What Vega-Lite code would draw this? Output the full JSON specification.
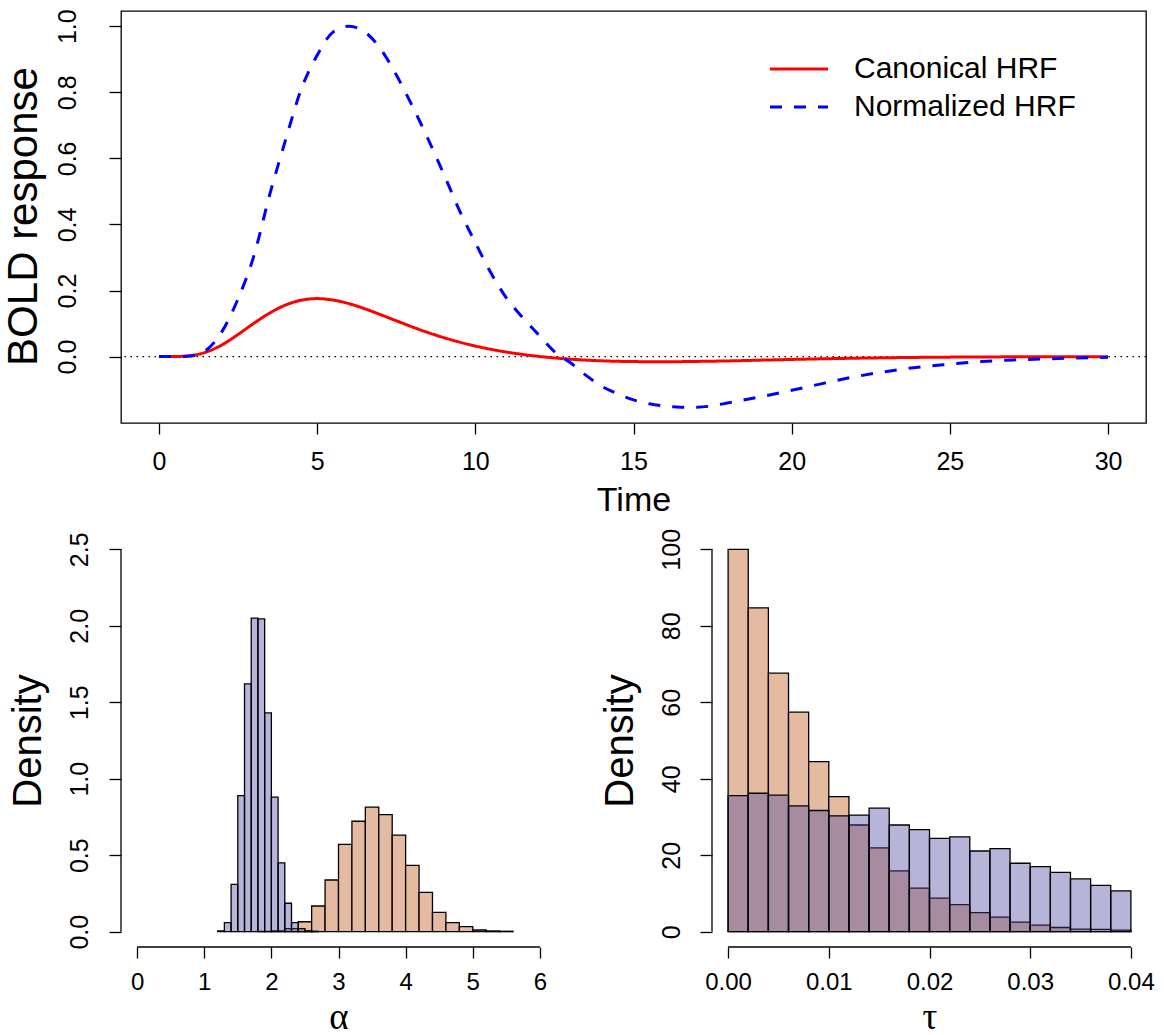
{
  "$schema": "https://vega.github.io/schema/vega-lite/v6.json",
  "autosize": "none",
  "padding": {"left": 121, "top": 11, "right": 1043, "bottom": 1024},
  "background": "white",
  "config": {
    "view": {"stroke": null},
    "axis": {
      "labelFont": "Liberation Sans", "titleFont": "Liberation Sans",
      "labelColor": "black", "titleColor": "black", "tickColor": "black", "domainColor": "black",
      "tickWidth": 1.3, "domainWidth": 1.3, "grid": false, "labelOverlap": false, "labelFlush": false,
      "titleFontWeight": "normal"
    },
    "legend": {"labelFont": "Liberation Sans", "labelColor": "black"}
  },
  "datasets": {
    "hrf": [
      {"time": 0, "response": 0, "series": "Canonical HRF"},
      {"time": 0.5, "response": 0.0002, "series": "Canonical HRF"},
      {"time": 1, "response": 0.003, "series": "Canonical HRF"},
      {"time": 1.5, "response": 0.014, "series": "Canonical HRF"},
      {"time": 2, "response": 0.036, "series": "Canonical HRF"},
      {"time": 2.5, "response": 0.067, "series": "Canonical HRF"},
      {"time": 3, "response": 0.1007, "series": "Canonical HRF"},
      {"time": 3.5, "response": 0.132, "series": "Canonical HRF"},
      {"time": 4, "response": 0.156, "series": "Canonical HRF"},
      {"time": 4.5, "response": 0.1707, "series": "Canonical HRF"},
      {"time": 5, "response": 0.1755, "series": "Canonical HRF"},
      {"time": 5.5, "response": 0.1712, "series": "Canonical HRF"},
      {"time": 6, "response": 0.1604, "series": "Canonical HRF"},
      {"time": 6.5, "response": 0.1451, "series": "Canonical HRF"},
      {"time": 7, "response": 0.1271, "series": "Canonical HRF"},
      {"time": 7.5, "response": 0.1085, "series": "Canonical HRF"},
      {"time": 8, "response": 0.0901, "series": "Canonical HRF"},
      {"time": 8.5, "response": 0.0729, "series": "Canonical HRF"},
      {"time": 9, "response": 0.0575, "series": "Canonical HRF"},
      {"time": 9.5, "response": 0.0439, "series": "Canonical HRF"},
      {"time": 10, "response": 0.032, "series": "Canonical HRF"},
      {"time": 10.5, "response": 0.022, "series": "Canonical HRF"},
      {"time": 11, "response": 0.0135, "series": "Canonical HRF"},
      {"time": 11.5, "response": 0.0065, "series": "Canonical HRF"},
      {"time": 12, "response": 0.0007, "series": "Canonical HRF"},
      {"time": 13, "response": -0.0078, "series": "Canonical HRF"},
      {"time": 14, "response": -0.0128, "series": "Canonical HRF"},
      {"time": 15, "response": -0.0151, "series": "Canonical HRF"},
      {"time": 16, "response": -0.0156, "series": "Canonical HRF"},
      {"time": 17, "response": -0.0146, "series": "Canonical HRF"},
      {"time": 18, "response": -0.0131, "series": "Canonical HRF"},
      {"time": 19, "response": -0.0108, "series": "Canonical HRF"},
      {"time": 20, "response": -0.0086, "series": "Canonical HRF"},
      {"time": 22, "response": -0.0049, "series": "Canonical HRF"},
      {"time": 24, "response": -0.0024, "series": "Canonical HRF"},
      {"time": 26, "response": -0.0011, "series": "Canonical HRF"},
      {"time": 28, "response": -0.0005, "series": "Canonical HRF"},
      {"time": 30, "response": -0.0002, "series": "Canonical HRF"},
      {"time": 0, "response": 0, "series": "Normalized HRF"},
      {"time": 0.5, "response": 0, "series": "Normalized HRF"},
      {"time": 1, "response": 0.002, "series": "Normalized HRF"},
      {"time": 1.5, "response": 0.02, "series": "Normalized HRF"},
      {"time": 2, "response": 0.077, "series": "Normalized HRF"},
      {"time": 2.5, "response": 0.175, "series": "Normalized HRF"},
      {"time": 3, "response": 0.305, "series": "Normalized HRF"},
      {"time": 3.5, "response": 0.49, "series": "Normalized HRF"},
      {"time": 4, "response": 0.655, "series": "Normalized HRF"},
      {"time": 4.5, "response": 0.81, "series": "Normalized HRF"},
      {"time": 5, "response": 0.912, "series": "Normalized HRF"},
      {"time": 5.5, "response": 0.982, "series": "Normalized HRF"},
      {"time": 6, "response": 1.0, "series": "Normalized HRF"},
      {"time": 6.5, "response": 0.983, "series": "Normalized HRF"},
      {"time": 7, "response": 0.932, "series": "Normalized HRF"},
      {"time": 7.5, "response": 0.853, "series": "Normalized HRF"},
      {"time": 8, "response": 0.76, "series": "Normalized HRF"},
      {"time": 8.5, "response": 0.66, "series": "Normalized HRF"},
      {"time": 9, "response": 0.553, "series": "Normalized HRF"},
      {"time": 9.5, "response": 0.442, "series": "Normalized HRF"},
      {"time": 10, "response": 0.345, "series": "Normalized HRF"},
      {"time": 10.5, "response": 0.252, "series": "Normalized HRF"},
      {"time": 11, "response": 0.175, "series": "Normalized HRF"},
      {"time": 11.5, "response": 0.118, "series": "Normalized HRF"},
      {"time": 12, "response": 0.066, "series": "Normalized HRF"},
      {"time": 12.5, "response": 0.015, "series": "Normalized HRF"},
      {"time": 13, "response": -0.018, "series": "Normalized HRF"},
      {"time": 13.5, "response": -0.057, "series": "Normalized HRF"},
      {"time": 14, "response": -0.09, "series": "Normalized HRF"},
      {"time": 14.5, "response": -0.113, "series": "Normalized HRF"},
      {"time": 15, "response": -0.131, "series": "Normalized HRF"},
      {"time": 15.5, "response": -0.143, "series": "Normalized HRF"},
      {"time": 16, "response": -0.15, "series": "Normalized HRF"},
      {"time": 16.5, "response": -0.153, "series": "Normalized HRF"},
      {"time": 17, "response": -0.153, "series": "Normalized HRF"},
      {"time": 17.5, "response": -0.149, "series": "Normalized HRF"},
      {"time": 18, "response": -0.14, "series": "Normalized HRF"},
      {"time": 19, "response": -0.122, "series": "Normalized HRF"},
      {"time": 20, "response": -0.102, "series": "Normalized HRF"},
      {"time": 21, "response": -0.081, "series": "Normalized HRF"},
      {"time": 22, "response": -0.061, "series": "Normalized HRF"},
      {"time": 23, "response": -0.045, "series": "Normalized HRF"},
      {"time": 24, "response": -0.032, "series": "Normalized HRF"},
      {"time": 25, "response": -0.023, "series": "Normalized HRF"},
      {"time": 26, "response": -0.015, "series": "Normalized HRF"},
      {"time": 27, "response": -0.01, "series": "Normalized HRF"},
      {"time": 28, "response": -0.007, "series": "Normalized HRF"},
      {"time": 29, "response": -0.004, "series": "Normalized HRF"},
      {"time": 30, "response": -0.002, "series": "Normalized HRF"}
    ],
    "alpha": [
      {"bin_start": 1.8, "bin_end": 2.0, "density": 0.002, "group": "peach"},
      {"bin_start": 2.0, "bin_end": 2.2, "density": 0.005, "group": "peach"},
      {"bin_start": 2.2, "bin_end": 2.4, "density": 0.02, "group": "peach"},
      {"bin_start": 2.4, "bin_end": 2.6, "density": 0.065, "group": "peach"},
      {"bin_start": 2.6, "bin_end": 2.8, "density": 0.168, "group": "peach"},
      {"bin_start": 2.8, "bin_end": 3.0, "density": 0.338, "group": "peach"},
      {"bin_start": 3.0, "bin_end": 3.2, "density": 0.571, "group": "peach"},
      {"bin_start": 3.2, "bin_end": 3.4, "density": 0.722, "group": "peach"},
      {"bin_start": 3.4, "bin_end": 3.6, "density": 0.815, "group": "peach"},
      {"bin_start": 3.6, "bin_end": 3.8, "density": 0.765, "group": "peach"},
      {"bin_start": 3.8, "bin_end": 4.0, "density": 0.632, "group": "peach"},
      {"bin_start": 4.0, "bin_end": 4.2, "density": 0.434, "group": "peach"},
      {"bin_start": 4.2, "bin_end": 4.4, "density": 0.257, "group": "peach"},
      {"bin_start": 4.4, "bin_end": 4.6, "density": 0.127, "group": "peach"},
      {"bin_start": 4.6, "bin_end": 4.8, "density": 0.059, "group": "peach"},
      {"bin_start": 4.8, "bin_end": 5.0, "density": 0.033, "group": "peach"},
      {"bin_start": 5.0, "bin_end": 5.2, "density": 0.011, "group": "peach"},
      {"bin_start": 5.2, "bin_end": 5.4, "density": 0.005, "group": "peach"},
      {"bin_start": 5.4, "bin_end": 5.6, "density": 0.003, "group": "peach"},
      {"bin_start": 1.2, "bin_end": 1.3, "density": 0.005, "group": "purple"},
      {"bin_start": 1.3, "bin_end": 1.4, "density": 0.06, "group": "purple"},
      {"bin_start": 1.4, "bin_end": 1.5, "density": 0.31, "group": "purple"},
      {"bin_start": 1.5, "bin_end": 1.6, "density": 0.89, "group": "purple"},
      {"bin_start": 1.6, "bin_end": 1.7, "density": 1.62, "group": "purple"},
      {"bin_start": 1.7, "bin_end": 1.8, "density": 2.05, "group": "purple"},
      {"bin_start": 1.8, "bin_end": 1.9, "density": 2.045, "group": "purple"},
      {"bin_start": 1.9, "bin_end": 2.0, "density": 1.43, "group": "purple"},
      {"bin_start": 2.0, "bin_end": 2.1, "density": 0.88, "group": "purple"},
      {"bin_start": 2.1, "bin_end": 2.2, "density": 0.45, "group": "purple"},
      {"bin_start": 2.2, "bin_end": 2.3, "density": 0.186, "group": "purple"},
      {"bin_start": 2.3, "bin_end": 2.4, "density": 0.059, "group": "purple"},
      {"bin_start": 2.4, "bin_end": 2.5, "density": 0.02, "group": "purple"},
      {"bin_start": 2.5, "bin_end": 2.6, "density": 0.006, "group": "purple"},
      {"bin_start": 2.6, "bin_end": 2.7, "density": 0.003, "group": "purple"}
    ],
    "tau": [
      {"bin_start": 0.000, "bin_end": 0.002, "density": 100.0, "group": "peach"},
      {"bin_start": 0.002, "bin_end": 0.004, "density": 84.7, "group": "peach"},
      {"bin_start": 0.004, "bin_end": 0.006, "density": 67.6, "group": "peach"},
      {"bin_start": 0.006, "bin_end": 0.008, "density": 57.4, "group": "peach"},
      {"bin_start": 0.008, "bin_end": 0.010, "density": 44.5, "group": "peach"},
      {"bin_start": 0.010, "bin_end": 0.012, "density": 35.3, "group": "peach"},
      {"bin_start": 0.012, "bin_end": 0.014, "density": 27.9, "group": "peach"},
      {"bin_start": 0.014, "bin_end": 0.016, "density": 21.9, "group": "peach"},
      {"bin_start": 0.016, "bin_end": 0.018, "density": 15.9, "group": "peach"},
      {"bin_start": 0.018, "bin_end": 0.020, "density": 11.4, "group": "peach"},
      {"bin_start": 0.020, "bin_end": 0.022, "density": 8.8, "group": "peach"},
      {"bin_start": 0.022, "bin_end": 0.024, "density": 7.1, "group": "peach"},
      {"bin_start": 0.024, "bin_end": 0.026, "density": 5.0, "group": "peach"},
      {"bin_start": 0.026, "bin_end": 0.028, "density": 3.8, "group": "peach"},
      {"bin_start": 0.028, "bin_end": 0.030, "density": 2.5, "group": "peach"},
      {"bin_start": 0.030, "bin_end": 0.032, "density": 1.7, "group": "peach"},
      {"bin_start": 0.032, "bin_end": 0.034, "density": 1.1, "group": "peach"},
      {"bin_start": 0.034, "bin_end": 0.036, "density": 0.7, "group": "peach"},
      {"bin_start": 0.036, "bin_end": 0.038, "density": 0.6, "group": "peach"},
      {"bin_start": 0.038, "bin_end": 0.040, "density": 0.4, "group": "peach"},
      {"bin_start": 0.000, "bin_end": 0.002, "density": 35.6, "group": "purple"},
      {"bin_start": 0.002, "bin_end": 0.004, "density": 36.2, "group": "purple"},
      {"bin_start": 0.004, "bin_end": 0.006, "density": 35.7, "group": "purple"},
      {"bin_start": 0.006, "bin_end": 0.008, "density": 32.9, "group": "purple"},
      {"bin_start": 0.008, "bin_end": 0.010, "density": 31.7, "group": "purple"},
      {"bin_start": 0.010, "bin_end": 0.012, "density": 30.3, "group": "purple"},
      {"bin_start": 0.012, "bin_end": 0.014, "density": 30.5, "group": "purple"},
      {"bin_start": 0.014, "bin_end": 0.016, "density": 32.3, "group": "purple"},
      {"bin_start": 0.016, "bin_end": 0.018, "density": 27.9, "group": "purple"},
      {"bin_start": 0.018, "bin_end": 0.020, "density": 26.7, "group": "purple"},
      {"bin_start": 0.020, "bin_end": 0.022, "density": 24.4, "group": "purple"},
      {"bin_start": 0.022, "bin_end": 0.024, "density": 24.8, "group": "purple"},
      {"bin_start": 0.024, "bin_end": 0.026, "density": 21.1, "group": "purple"},
      {"bin_start": 0.026, "bin_end": 0.028, "density": 21.7, "group": "purple"},
      {"bin_start": 0.028, "bin_end": 0.030, "density": 17.9, "group": "purple"},
      {"bin_start": 0.030, "bin_end": 0.032, "density": 17.0, "group": "purple"},
      {"bin_start": 0.032, "bin_end": 0.034, "density": 15.5, "group": "purple"},
      {"bin_start": 0.034, "bin_end": 0.036, "density": 13.8, "group": "purple"},
      {"bin_start": 0.036, "bin_end": 0.038, "density": 12.1, "group": "purple"},
      {"bin_start": 0.038, "bin_end": 0.040, "density": 10.7, "group": "purple"}
    ]
  },
  "spacing": 111,
  "bounds": "flush",
  "vconcat": [
    {
      "width": 1025,
      "height": 412,
      "view": {"stroke": "black", "strokeWidth": 1.3},
      "layer": [
        {
          "data": {"values": [{}]},
          "mark": {"type": "rule", "color": "black", "strokeWidth": 1.3, "strokeDash": [1.5, 4.5]},
          "encoding": {"y": {"datum": 0, "type": "quantitative"}}
        },
        {
          "data": {"name": "hrf"},
          "mark": {"type": "line", "strokeWidth": 3, "interpolate": "monotone"},
          "encoding": {
            "x": {
              "field": "time", "type": "quantitative",
              "scale": {"domain": [-1.2, 31.2], "nice": false, "zero": false},
              "axis": {
                "title": "Time", "values": [0, 5, 10, 15, 20, 25, 30], "format": "d",
                "domain": false, "tickSize": 11, "labelFontSize": 25, "labelPadding": 35,
                "labelBaseline": "alphabetic", "labelAlign": "center",
                "titleFontSize": 34, "titleX": 512.5, "titleY": 87,
                "titleBaseline": "alphabetic", "titleAlign": "center"
              }
            },
            "y": {
              "field": "response", "type": "quantitative",
              "scale": {"domain": [-0.201, 1.046], "nice": false, "zero": false},
              "axis": {
                "title": "BOLD response", "values": [0, 0.2, 0.4, 0.6, 0.8, 1.0], "format": ".1f",
                "domain": false, "tickSize": 12, "labelAngle": 270, "labelAlign": "center",
                "labelBaseline": "alphabetic", "labelPadding": 34, "labelFontSize": 25,
                "titleFontSize": 42, "titleAngle": 270, "titleAlign": "center",
                "titleBaseline": "alphabetic", "titleX": -85, "titleY": 205
              }
            },
            "color": {
              "field": "series", "type": "nominal",
              "scale": {"domain": ["Canonical HRF", "Normalized HRF"], "range": ["#FF0000", "#0000FF"]},
              "legend": {
                "title": null, "orient": "none", "legendX": 663, "legendY": 43,
                "symbolType": "M-3,0H3", "symbolSize": 374, "symbolStrokeWidth": 3,
                "labelFontSize": 30, "labelOffset": 40, "labelLimit": 500, "rowPadding": 8, "padding": 0
              }
            },
            "strokeDash": {
              "field": "series", "type": "nominal",
              "scale": {"domain": ["Canonical HRF", "Normalized HRF"], "range": [[1, 0], [12, 12]]},
              "legend": {
                "title": null, "orient": "none", "legendX": 663, "legendY": 43,
                "symbolType": "M-3,0H3", "symbolSize": 374, "symbolStrokeWidth": 3,
                "labelFontSize": 30, "labelOffset": 40, "labelLimit": 500, "rowPadding": 8, "padding": 0
              }
            }
          }
        }
      ]
    },
    {
      "spacing": 156,
      "bounds": "flush",
      "hconcat": [
        {
          "width": 435,
          "height": 413,
          "layer": [
            {
              "data": {"name": "alpha"},
              "mark": {"type": "rect", "stroke": "black", "strokeWidth": 1.3},
              "encoding": {
                "x": {
                  "field": "bin_start", "type": "quantitative",
                  "scale": {"domain": [-0.24, 6.24], "nice": false, "zero": false},
                  "axis": {
                    "title": "α", "values": [0, 1, 2, 3, 4, 5, 6], "format": "d",
                    "domain": false, "tickSize": 11, "labelFontSize": 24, "labelPadding": 31,
                    "labelBaseline": "alphabetic", "labelAlign": "center",
                    "titleFont": "Liberation Serif", "titleFontSize": 37,
                    "titleX": 217.5, "titleY": 81, "titleBaseline": "alphabetic", "titleAlign": "center"
                  }
                },
                "x2": {"field": "bin_end"},
                "y": {
                  "field": "density", "type": "quantitative",
                  "scale": {"domain": [-0.1, 2.6], "nice": false, "zero": false},
                  "axis": {
                    "title": "Density", "values": [0, 0.5, 1, 1.5, 2, 2.5], "format": ".1f",
                    "domain": false, "tickSize": 12, "labelAngle": 270, "labelAlign": "center",
                    "labelBaseline": "alphabetic", "labelPadding": 22, "labelFontSize": 25,
                    "titleFontSize": 40, "titleAngle": 270, "titleAlign": "center",
                    "titleBaseline": "alphabetic", "titleX": -81, "titleY": 206.5
                  }
                },
                "y2": {"datum": 0},
                "fill": {
                  "field": "group", "type": "nominal",
                  "scale": {"domain": ["peach", "purple"], "range": ["#E4BBA0", "#4B44A3"]},
                  "legend": null
                },
                "fillOpacity": {
                  "field": "group", "type": "nominal",
                  "scale": {"domain": ["peach", "purple"], "range": [1, 0.4]},
                  "legend": null
                }
              }
            },
            {
              "data": {"values": [{}]},
              "mark": {"type": "rule", "color": "black", "strokeWidth": 1.3},
              "encoding": {"x": {"datum": 0}, "x2": {"datum": 6}, "y": {"datum": -0.1}}
            },
            {
              "data": {"values": [{}]},
              "mark": {"type": "rule", "color": "black", "strokeWidth": 1.3},
              "encoding": {"x": {"datum": -0.24}, "y": {"datum": 0}, "y2": {"datum": 2.5}}
            }
          ]
        },
        {
          "width": 435,
          "height": 413,
          "layer": [
            {
              "data": {"name": "tau"},
              "mark": {"type": "rect", "stroke": "black", "strokeWidth": 1.3},
              "encoding": {
                "x": {
                  "field": "bin_start", "type": "quantitative",
                  "scale": {"domain": [-0.0016, 0.0416], "nice": false, "zero": false},
                  "axis": {
                    "title": "τ", "values": [0, 0.01, 0.02, 0.03, 0.04], "format": ".2f",
                    "domain": false, "tickSize": 11, "labelFontSize": 24, "labelPadding": 31,
                    "labelBaseline": "alphabetic", "labelAlign": "center",
                    "titleFont": "Liberation Serif", "titleFontSize": 37,
                    "titleX": 217.5, "titleY": 81, "titleBaseline": "alphabetic", "titleAlign": "center"
                  }
                },
                "x2": {"field": "bin_end"},
                "y": {
                  "field": "density", "type": "quantitative",
                  "scale": {"domain": [-4, 104], "nice": false, "zero": false},
                  "axis": {
                    "title": "Density", "values": [0, 20, 40, 60, 80, 100], "format": "d",
                    "domain": false, "tickSize": 12, "labelAngle": 270, "labelAlign": "center",
                    "labelBaseline": "alphabetic", "labelPadding": 21, "labelFontSize": 25,
                    "titleFontSize": 40, "titleAngle": 270, "titleAlign": "center",
                    "titleBaseline": "alphabetic", "titleX": -80, "titleY": 206.5
                  }
                },
                "y2": {"datum": 0},
                "fill": {
                  "field": "group", "type": "nominal",
                  "scale": {"domain": ["peach", "purple"], "range": ["#E4BBA0", "#4B44A3"]},
                  "legend": null
                },
                "fillOpacity": {
                  "field": "group", "type": "nominal",
                  "scale": {"domain": ["peach", "purple"], "range": [1, 0.4]},
                  "legend": null
                }
              }
            },
            {
              "data": {"values": [{}]},
              "mark": {"type": "rule", "color": "black", "strokeWidth": 1.3},
              "encoding": {"x": {"datum": 0}, "x2": {"datum": 0.04}, "y": {"datum": -4}}
            },
            {
              "data": {"values": [{}]},
              "mark": {"type": "rule", "color": "black", "strokeWidth": 1.3},
              "encoding": {"x": {"datum": -0.0016}, "y": {"datum": 0}, "y2": {"datum": 100}}
            }
          ]
        }
      ]
    }
  ]
}
